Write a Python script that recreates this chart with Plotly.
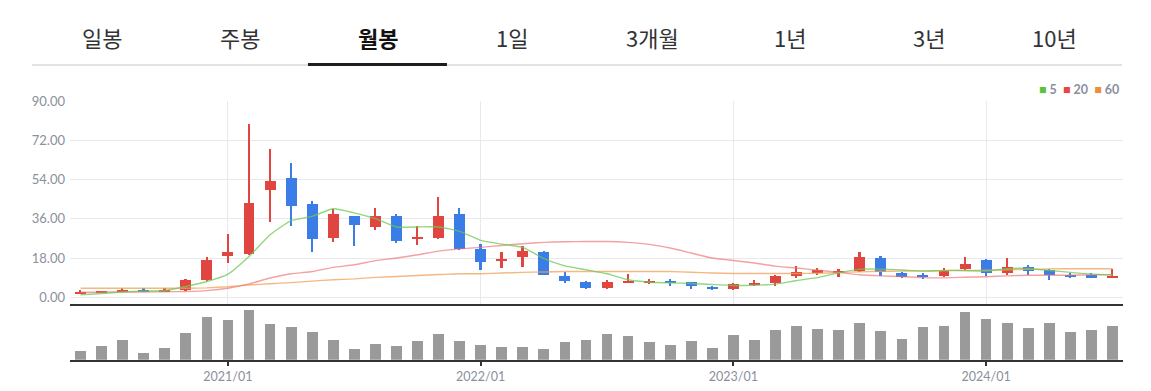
import pandas as pd
import plotly.graph_objects as go

# ---------------- data ----------------
months = [p.strftime("%Y/%m") for p in pd.period_range("2020-06", "2024-07", freq="M")]

open_ = [1.8, 1.9, 2.5, 3.4, 2.6, 3.1, 8.0, 19.1, 20.0, 49.2,
         54.9, 42.6, 27.2, 37.1, 32.2, 37.5, 27.0, 27.2, 38.4, 22.3,
         16.6, 18.3, 20.6, 9.8, 7.1, 4.0, 6.9, 6.8, 7.5, 6.9,
         4.8, 3.5, 6.0, 6.5, 9.5, 11.5, 11.4, 12.0, 18.1, 11.2,
         10.3, 9.8, 12.7, 17.2, 11.1, 13.8, 12.5, 10.3, 10.0, 9.2]
close = [2.4, 2.5, 3.4, 2.6, 3.4, 7.9, 17.1, 20.8, 43.4, 53.2,
         42.1, 26.9, 38.0, 33.0, 37.1, 25.7, 27.5, 37.1, 22.3, 16.0,
         17.2, 21.4, 10.3, 7.4, 4.0, 6.9, 7.5, 7.2, 6.9, 4.9,
         3.5, 6.0, 6.7, 9.8, 11.7, 12.3, 12.2, 18.6, 11.4, 9.4,
         9.4, 12.1, 15.4, 11.1, 13.8, 12.1, 10.2, 9.5, 9.0, 9.9]
high = [3.4, 3.0, 4.4, 4.0, 4.0, 8.4, 18.5, 29.2, 79.8, 68.0,
        61.5, 44.1, 40.3, 37.5, 40.8, 38.4, 32.6, 46.1, 41.1, 24.5,
        20.6, 23.7, 21.4, 11.5, 7.2, 8.0, 10.4, 8.4, 8.4, 7.0,
        5.2, 6.4, 8.0, 10.0, 14.3, 13.2, 12.8, 20.6, 19.1, 11.7,
        11.2, 13.4, 18.6, 17.5, 18.1, 14.8, 12.9, 11.1, 11.1, 13.1]
low = [1.5, 1.7, 2.3, 2.3, 2.3, 3.0, 7.5, 15.5, 19.4, 34.4,
       32.9, 20.6, 25.2, 23.7, 30.7, 24.7, 24.1, 26.8, 21.5, 12.6,
       13.4, 13.8, 10.0, 6.3, 3.9, 3.9, 6.5, 5.8, 5.2, 3.8,
       3.4, 3.3, 5.2, 5.2, 9.0, 10.0, 9.2, 11.7, 9.8, 8.8,
       8.4, 9.4, 12.3, 9.5, 10.0, 10.3, 7.8, 8.6, 8.6, 9.0]

ma5 = [1.1, 1.7, 2.4, 2.8, 3.1, 4.9, 7.2, 10.6, 18.7, 28.7,
       35.2, 37.2, 40.7, 38.8, 36.1, 32.3, 32.3, 32.3, 30.3, 26.1,
       24.4, 22.9, 17.7, 14.4, 12.6, 10.8, 8.0, 6.9, 6.6, 6.3,
       5.8, 5.4, 5.5, 6.0, 7.7, 9.0, 11.2, 12.9, 12.9, 12.5,
       12.0, 12.3, 12.3, 12.0, 13.1, 13.2, 12.3, 11.4, 10.6, 10.3]
ma20 = [2.3, 2.3, 2.4, 2.4, 2.5, 2.6, 3.0, 4.1, 6.1, 8.8,
        10.8, 11.8, 13.7, 14.9, 16.8, 18.0, 19.5, 21.2, 22.2, 22.9,
        23.8, 24.6, 25.2, 25.5, 25.6, 25.6, 25.2, 24.3, 22.6, 20.3,
        18.0, 16.9, 15.7, 14.3, 13.4, 12.4, 11.4, 10.3, 9.8, 9.5,
        9.0, 8.9, 9.2, 9.4, 9.8, 10.1, 10.1, 10.1, 10.3, 10.3]
ma60 = [4.1, 4.1, 4.1, 4.1, 4.1, 4.1, 4.3, 4.8, 5.6, 6.2,
        6.7, 7.4, 8.0, 8.4, 9.1, 9.5, 10.0, 10.4, 10.8, 10.8,
        11.1, 11.4, 11.6, 11.8, 11.8, 11.8, 11.8, 11.8, 11.8, 11.5,
        11.1, 10.9, 10.9, 10.9, 10.9, 11.0, 11.3, 11.7, 11.9, 12.0,
        12.1, 12.2, 12.3, 12.4, 12.6, 12.8, 13.0, 13.1, 13.1, 13.1]

# relative trading volume (bar height units)
volume = [9.0, 13.6, 19.6, 7.0, 11.3, 27.0, 42.9, 40.0, 49.7, 35.4,
          32.3, 28.0, 19.6, 10.6, 16.0, 13.6, 19.0, 25.7, 19.0, 15.0,
          13.0, 13.0, 10.6, 17.4, 19.3, 25.6, 23.3, 17.3, 14.4, 19.0,
          12.0, 24.3, 19.7, 30.0, 34.0, 31.0, 29.3, 37.0, 28.7, 21.0,
          32.3, 34.0, 47.3, 41.0, 37.0, 31.7, 37.0, 28.0, 30.0, 34.0]

tabs = ["일봉", "주봉", "월봉", "1일", "3개월", "1년", "3년", "10년"]
selected_tab = "월봉"
y_ticks = [0, 18, 36, 54, 72, 90]

# ---------------- styling ----------------
W, H = 1151, 391
UP, DOWN = "#e0463f", "#3a7de6"
GRID = "#e9e9ec"
LABEL = "#8a909c"
NUM_FONT = "Lato"
KR_FONT = "Noto Sans CJK KR"

x = list(range(len(months)))
tick_idx = [i for i, m in enumerate(months) if m.endswith("/01")]
tick_txt = [months[i] for i in tick_idx]
colors = [UP if c >= o else DOWN for o, c in zip(open_, close)]
body_base = [min(o, c) for o, c in zip(open_, close)]
body_h = [max(abs(c - o), 0.45) for o, c in zip(open_, close)]
wick_h = [h - l for h, l in zip(high, low)]

def py(px):
    return 1 - px / H

fig = go.Figure()
fig.add_trace(go.Bar(x=x, y=wick_h, base=low, width=0.08, marker=dict(color=colors, line=dict(width=0)),
                     xaxis="x", yaxis="y", hoverinfo="skip"))
fig.add_trace(go.Bar(x=x, y=body_h, base=body_base, width=0.52, marker=dict(color=colors, line=dict(width=0)),
                     xaxis="x", yaxis="y", hoverinfo="skip"))
for vals, col in [(ma60, "rgba(240,160,90,0.75)"), (ma20, "rgba(236,110,110,0.65)"), (ma5, "rgba(110,200,85,0.75)")]:
    fig.add_trace(go.Scatter(x=x, y=vals, mode="lines", line=dict(color=col, width=1.4, shape="spline", smoothing=0.5),
                             xaxis="x", yaxis="y", hoverinfo="skip"))
fig.add_trace(go.Bar(x=x, y=volume, width=0.51, marker=dict(color="#9a9a9a", line=dict(width=0)),
                     xaxis="x2", yaxis="y2", hoverinfo="skip"))

xdom = [70 / W, 1123 / W]
fig.update_layout(
    template="none",
    width=W, height=H, margin=dict(l=0, r=0, t=0, b=0, pad=0, autoexpand=False),
    paper_bgcolor="white", plot_bgcolor="white",
    showlegend=False, barmode="overlay", bargap=0,
    xaxis=dict(domain=xdom, anchor="y", range=[-0.5, len(months) - 0.5], automargin=False,
               tickvals=tick_idx, showticklabels=False, showgrid=True, gridcolor=GRID, gridwidth=1,
               showline=True, linecolor="#333333", linewidth=2, zeroline=False, ticks=""),
    yaxis=dict(domain=[py(303.7), py(101.1)], range=[-3.0, 90.2], tickvals=y_ticks, automargin=False,
               tickformat=".2f", showgrid=True, gridcolor=GRID, gridwidth=1, zeroline=False, showline=False,
               tickfont=dict(family=NUM_FONT, size=13, color=LABEL), ticks="", ticklabelstandoff=4),
    xaxis2=dict(domain=xdom, anchor="y2", range=[-0.5, len(months) - 0.5], automargin=False,
                tickvals=tick_idx, ticktext=tick_txt, ticks="outside", ticklen=4, tickwidth=1.5,
                tickcolor="#333333", showline=True, linecolor="#333333", linewidth=2, showgrid=False,
                zeroline=False, tickfont=dict(family=NUM_FONT, size=12.5, color=LABEL)),
    yaxis2=dict(domain=[py(359.7), py(304.0)], range=[0, 55.7], showticklabels=False, automargin=False,
                showgrid=False, zeroline=False, showline=False, ticks=""),
)

# tabs
tab_centers = [102, 240, 378, 512, 652, 790, 929, 1054]
for t, cx in zip(tabs, tab_centers):
    sel = t == selected_tab
    fig.add_annotation(x=cx / W, y=py(37), xref="paper", yref="paper", text=f"<b>{t}</b>" if sel else t,
                       showarrow=False, xanchor="center", yanchor="middle",
                       font=dict(family=KR_FONT, size=22, color="#111111" if sel else "#333333"))
fig.add_shape(type="line", xref="paper", yref="paper", x0=32 / W, x1=1122 / W, y0=py(65), y1=py(65),
              line=dict(color="#e3e3e3", width=2))
fig.add_shape(type="line", xref="paper", yref="paper", x0=308 / W, x1=447 / W, y0=py(64.5), y1=py(64.5),
              line=dict(color="#1e1e22", width=3))

# MA legend
legend_html = ("<span style='color:#5cc23c'>■</span> 5  "
               "<span style='color:#e8463f'>■</span> 20  "
               "<span style='color:#e8913c'>■</span> 60")
fig.add_annotation(x=1121 / W, y=py(89), xref="paper", yref="paper", text=f"<b>{legend_html}</b>",
                   showarrow=False, xanchor="right", yanchor="middle",
                   font=dict(family=NUM_FONT, size=12.5, color=LABEL))

fig.write_html(
    "out.html",
    config={"displayModeBar": False},
    post_script=("document.body.style.margin='0';document.body.style.overflow='hidden';"
                 "var gd=document.getElementById('{plot_id}');gd.style.position='fixed';"
                 "gd.style.top='0px';gd.style.left='0px';"),
)
